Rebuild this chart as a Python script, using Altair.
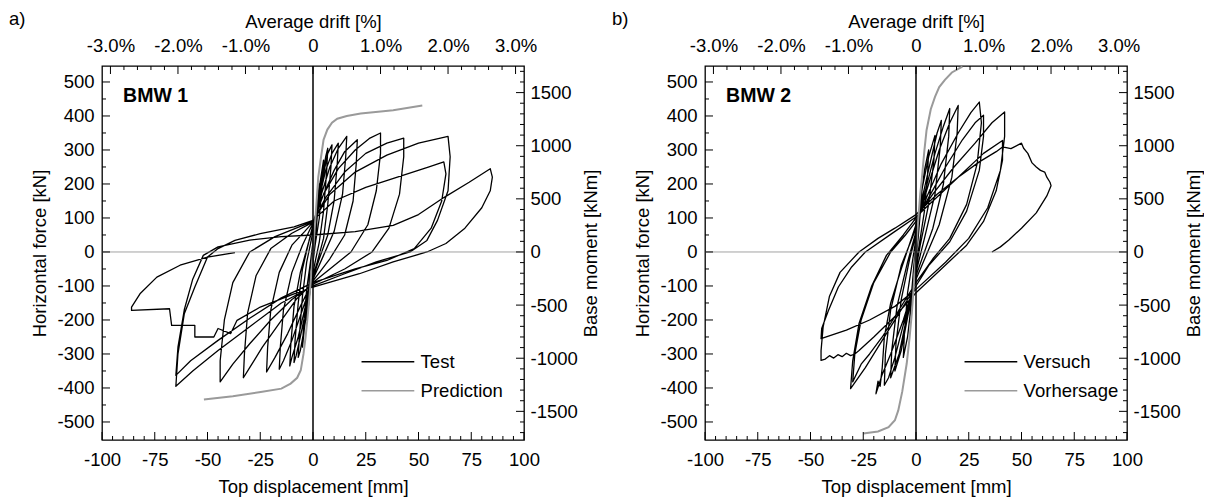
import altair as alt
import pandas as pd

# ---------------- data (displacement mm, force kN) ----------------
a_test = [
    (0, 0), (1, 70), (2, 140), (3, 200), (2.5, 150), (1.5, 60), (0, -20), (-1, -80), (-2, -150), (-3, -200),
    (-2.5, -150), (-1.5, -60), (0, 20),
    (1, 80), (3, 190), (5, 270), (4.5, 210), (3, 100), (1, 20), (0, -30), (-2, -120), (-4, -220), (-5, -280),
    (-4.5, -220), (-3, -110), (-1, -20), (0, 30),
    (2, 120), (4, 210), (6, 280), (7, 305), (6.5, 240), (5, 120), (3, 30), (1, -30), (0, -60), (-2, -140),
    (-4, -220), (-6, -290), (-7, -310), (-6.5, -250), (-5, -130), (-3, -30), (-1, 30), (0, 60),
    (2, 130), (5, 230), (7, 290), (9, 315), (8.5, 250), (7, 140), (5, 40), (2, -30), (0, -70), (-3, -160),
    (-6, -250), (-8, -305), (-9, -325), (-8.5, -260), (-7, -150), (-5, -50), (-2, 30), (0, 70),
    (3, 160), (6, 240), (9, 290), (12, 320), (11.5, 260), (10, 150), (7, 50), (3, -20), (0, -75), (-4, -170),
    (-7, -250), (-10, -310), (-11, -335), (-10.5, -270), (-9, -160), (-6, -60), (-2, 30), (0, 80),
    (4, 170), (8, 250), (12, 305), (16, 340), (15.5, 280), (14, 170), (10, 60), (5, -10), (0, -80), (-5, -170),
    (-10, -260), (-14, -320), (-16, -345), (-15.5, -280), (-14, -170), (-10, -60), (-5, 20), (0, 85),
    (5, 170), (10, 240), (15, 295), (21, 330), (20.5, 260), (19, 150), (15, 50), (8, -20), (0, -85), (-6, -160),
    (-12, -240), (-18, -310), (-22, -353), (-21.5, -280), (-20, -170), (-16, -60), (-10, 20), (-4, 60), (0, 88),
    (5, 170), (12, 245), (20, 300), (27, 335), (32, 350), (32, 290), (30, 180), (26, 80), (18, 0), (8, -50),
    (0, -90), (-8, -140), (-16, -210), (-24, -280), (-30, -340), (-33, -370), (-32.5, -300), (-31, -180),
    (-27, -70), (-20, 10), (-10, 55), (0, 88),
    (6, 160), (15, 235), (25, 290), (35, 320), (43, 335), (43, 280), (41, 170), (36, 70), (28, 0), (15, -50),
    (0, -95), (-10, -140), (-20, -200), (-30, -270), (-38, -330), (-44, -382), (-44, -320), (-42, -200),
    (-38, -90), (-30, 0), (-18, 45), (-8, 70), (0, 90),
    (8, 170), (20, 235), (35, 285), (50, 320), (64, 340), (65, 280), (64, 180), (59, 93), (54, 34), (46, 0),
    (30, -29), (15, -64), (0, -100), (-15, -150), (-30, -220), (-45, -290), (-57, -350), (-65, -395),
    (-64, -300), (-61, -182), (-56, -103), (-50, -15), (-45, 10), (-37, 34), (-25, 54), (-9, 74), (0, 93),
    (10, 150), (25, 190), (40, 220), (55, 250), (62, 265), (63, 230), (61, 150), (56, 70), (48, 10), (35, -25),
    (20, -50), (0, -90), (-15, -135), (-30, -195), (-45, -260), (-58, -320), (-65, -363), (-64, -280),
    (-61, -170), (-57, -80), (-52, -10), (-45, 15), (-30, 35), (-15, 45), (0, 50),
    (20, 60), (38, 78), (50, 110), (62, 160), (74, 205), (84, 245), (85, 220), (84, 180), (80, 130), (72, 70),
    (63, 25), (54, 0), (38, -29), (22, -64), (0, -103), (-9, -123), (-25, -162), (-36, -201), (-39, -240),
    (-45, -225), (-47, -250), (-56, -250), (-56, -216), (-67, -216), (-68, -167), (-86, -172), (-86, -162),
    (-82, -123), (-74, -74), (-63, -39), (-50, -15), (-37, -2),
]
a_pred = [
    (-51.7, -434), (-38, -424), (-24.8, -412), (-15, -402), (-10.6, -387), (-7.5, -370), (-5.8, -348),
    (-4.5, -300), (-3.5, -250), (-2.7, -200), (-1.5, -120), (0, 0), (1.5, 130), (2.5, 220), (3.6, 270),
    (5, 330), (6.8, 360), (9, 380), (11.5, 392), (16, 400), (22.6, 407), (38, 417), (51.8, 431),
]
b_test = [
    (0, 0), (1, 80), (3, 200), (2.5, 150), (1, 40), (0, -20), (-1, -90), (-3, -200), (-2.5, -150), (-1, -40), (0, 20),
    (2, 140), (4, 240), (6, 300), (5.5, 230), (4, 120), (1, 0), (0, -40), (-2, -140), (-4, -250), (-6, -310),
    (-5.5, -240), (-4, -120), (-1, 0), (0, 40),
    (3, 190), (6, 280), (9, 343), (8.5, 270), (6, 140), (2, 20), (0, -50), (-3, -160), (-7, -290), (-10, -350),
    (-9.5, -270), (-7, -140), (-3, -20), (0, 50),
    (3, 160), (7, 270), (10, 350), (12, 387), (11.5, 310), (9, 170), (4, 40), (0, -60), (-4, -180), (-8, -300),
    (-12, -370), (-11.5, -290), (-9, -160), (-4, -30), (0, 60),
    (4, 170), (9, 290), (13, 370), (16, 422), (15.5, 340), (13, 200), (8, 70), (0, -70), (-5, -190), (-10, -310),
    (-13, -370), (-15, -392), (-14.5, -300), (-12, -170), (-7, -40), (0, 70),
    (5, 180), (11, 300), (16, 380), (20, 431), (19.5, 350), (17, 220), (11, 80), (0, -80), (-6, -200),
    (-12, -300), (-16, -360), (-19, -417), (-18, -380), (-17, -395), (-16, -340), (-15, -250), (-12, -150),
    (-7, -50), (0, 80),
    (5, 160), (12, 260), (20, 350), (26, 410), (30, 441), (31, 380), (29, 260), (24, 140), (16, 40), (8, -20),
    (0, -90), (-8, -170), (-16, -250), (-22, -300), (-26, -330), (-30, -382), (-29, -300), (-26, -200),
    (-20, -90), (-12, 0), (-5, 50), (0, 90),
    (6, 160), (14, 250), (22, 330), (28, 380), (32, 402), (32, 340), (30, 240), (24, 120), (16, 30), (6, -40),
    (0, -100), (-8, -180), (-16, -260), (-24, -340), (-31, -402), (-30, -320), (-27, -210), (-21, -100),
    (-14, -10), (-6, 50), (0, 100),
    (8, 170), (18, 250), (28, 320), (36, 380), (42, 412), (42, 340), (40, 240), (34, 130), (25, 40), (14, -30),
    (0, -110), (-10, -160), (-22, -200), (-33, -230), (-45, -255), (-44.7, -225), (-41.5, -172), (-36.8, -103),
    (-30.5, -44), (-24, 0), (-11.5, 54), (0, 103),
    (8, 150), (20, 220), (32, 290), (41, 328), (41, 270), (38, 180), (32, 90), (24, 20), (12, -50), (0, -120),
    (-10, -190), (-20, -250), (-27, -290), (-29, -300), (-31, -305), (-33, -298), (-35, -308), (-37, -302),
    (-39, -312), (-41, -305), (-43, -315), (-45, -319), (-45, -290), (-44, -220), (-41, -130), (-36, -60),
    (-27, 0), (-18, 40), (-10, 70), (0, 110),
    (10, 170), (20, 220), (30, 265), (38, 295), (41, 309), (45, 304), (50, 320), (51, 305), (53, 290),
    (55, 262), (57, 250), (59, 240), (61, 235), (62, 220), (63.5, 205), (64, 195), (62, 165), (57, 115),
    (50, 70), (44, 35), (40, 15), (36, 0),
]
b_pred = [
    (-25, -534), (-18, -528), (-13, -515), (-10, -495), (-8.4, -466), (-6.5, -410), (-4.4, -328), (-3, -250),
    (-2, -181), (-1, -95), (0, 0), (1, 90), (2, 170), (2.7, 211), (4, 300), (5, 358), (7, 420), (9, 456),
    (11, 485), (13.7, 506), (17, 528), (22, 545),
]

x_major = [-100, -75, -50, -25, 0, 25, 50, 75, 100]
x_minor = [v for v in range(-95, 100, 5) if v % 25 != 0]
y_major = [-500, -400, -300, -200, -100, 0, 100, 200, 300, 400, 500]
y_minor = [-450, -350, -250, -150, -50, 50, 150, 250, 350, 450]
drift_major = [-3, -2, -1, 0, 1, 2, 3]
drift_minor = [-2.8, -2.6, -2.4, -2.2, -1.8, -1.6, -1.4, -1.2, -0.8, -0.6, -0.4, -0.2,
               0.2, 0.4, 0.6, 0.8, 1.2, 1.4, 1.6, 1.8, 2.2, 2.4, 2.6, 2.8]
moment_major = [-1500, -1000, -500, 0, 500, 1000, 1500]
moment_minor = [m for m in range(-1700, 1800, 100) if m % 500 != 0]

MM_PER_PCT = 32.0   # 1 % drift = 32 mm top displacement
LEVER = 3.2         # base moment = force * 3.2 m

X_DOM = [-100, 100]
Y_DOM = [-553, 547]
W, H = 422, 374
FONT = "Liberation Sans"
FS = 18.5
MAJ, MIN = 8, 4


def panel(test, pred, letter, tag, names):
    xs = alt.Scale(domain=X_DOM, nice=False, zero=False)
    ys = alt.Scale(domain=Y_DOM, nice=False, zero=False)
    df_t = pd.DataFrame({"x": [p[0] for p in test], "y": [p[1] for p in test], "i": list(range(len(test)))})
    df_p = pd.DataFrame({"x": [p[0] for p in pred], "y": [p[1] for p in pred], "i": list(range(len(pred)))})

    common = dict(ticks=False, domain=False, grid=False, tickSize=0, labelFlush=False, labelOverlap=False,
                  labelFont=FONT, titleFont=FONT, labelFontSize=FS, titleFontSize=FS,
                  labelColor="black", titleColor="black", titleFontWeight="normal")

    hline = alt.Chart(pd.DataFrame({"y": [0]})).mark_rule(color="#8a8a8a", strokeWidth=0.8).encode(
        y=alt.Y("y:Q", scale=ys, axis=None))
    vline = alt.Chart(pd.DataFrame({"x": [0]})).mark_rule(color="black", strokeWidth=1.5).encode(
        x=alt.X("x:Q", scale=xs, axis=None))

    test_line = alt.Chart(df_t).mark_line(color="black", strokeWidth=1.3, strokeJoin="round").encode(
        x=alt.X("x:Q", scale=xs, axis=alt.Axis(
            orient="bottom", title="Top displacement [mm]", values=x_major,
            labelExpr="'' + datum.value", labelPadding=10, titlePadding=9, **common)),
        y=alt.Y("y:Q", scale=ys, axis=alt.Axis(
            orient="left", title="Horizontal force [kN]", values=y_major,
            labelExpr="'' + datum.value", labelPadding=8, titlePadding=7, **common)),
        order="i:Q",
    )
    pred_line = alt.Chart(df_p).mark_line(color="#9a9a9a", strokeWidth=2).encode(
        x=alt.X("x:Q", scale=xs, axis=alt.Axis(
            orient="top", title="Average drift [%]", values=[d * MM_PER_PCT for d in drift_major],
            labelExpr="datum.value == 0 ? '0' : (datum.value < 0 ? '-' : '') + format(abs(datum.value) / 32, '.1f') + '%'",
            labelPadding=11, titlePadding=5, **common)),
        y=alt.Y("y:Q", scale=ys, axis=alt.Axis(
            orient="right", title="Base moment [kNm]", values=[m / LEVER for m in moment_major],
            labelExpr="'' + round(datum.value * 3.2)", labelPadding=6, titlePadding=4,
            titleAngle=270, titleBaseline="top", **common)),
        order="i:Q",
    )

    # inward tick marks
    def xticks(vals, top, length, pct=False):
        base = alt.Chart(pd.DataFrame({"v": vals}))
        field = "v"
        if pct:
            base = base.transform_calculate(mm="datum.v * 32")
            field = "mm"
        y0 = 0 if top else H
        y1 = length if top else H - length
        return base.mark_rule(color="black", strokeWidth=1).encode(
            x=alt.X(field + ":Q", scale=xs, axis=None), y=alt.value(y0), y2=alt.value(y1))

    def yticks(vals, right, length, moment=False):
        base = alt.Chart(pd.DataFrame({"v": vals}))
        field = "v"
        if moment:
            base = base.transform_calculate(kn="datum.v / 3.2")
            field = "kn"
        x0 = W if right else 0
        x1 = W - length if right else length
        return base.mark_rule(color="black", strokeWidth=1).encode(
            y=alt.Y(field + ":Q", scale=ys, axis=None), x=alt.value(x0), x2=alt.value(x1))

    ticks = [
        xticks(x_major, False, MAJ), xticks(x_minor, False, MIN),
        xticks(drift_major, True, MAJ, pct=True), xticks(drift_minor, True, MIN, pct=True),
        yticks(y_major, False, MAJ), yticks(y_minor, False, MIN),
        yticks(moment_major, True, MAJ, moment=True), yticks(moment_minor, True, MIN, moment=True),
    ]

    tag_text = alt.Chart(pd.DataFrame({"x": [-90], "y": [459], "t": [tag]})).mark_text(
        align="left", baseline="middle", font=FONT, fontSize=19.5, fontWeight="bold", color="black").encode(
        x=alt.X("x:Q", scale=xs, axis=None), y=alt.Y("y:Q", scale=ys, axis=None), text="t:N")

    leg = pd.DataFrame({"x": [23, 23], "x2": [48, 48], "y": [-323, -408], "name": names, "tx": [51, 51]})
    leg_color = alt.Color("name:N", scale=alt.Scale(domain=names, range=["black", "#9a9a9a"]), legend=None)
    leg_rules = alt.Chart(leg).mark_rule(strokeWidth=1.6).encode(
        x=alt.X("x:Q", scale=xs, axis=None), x2="x2:Q", y=alt.Y("y:Q", scale=ys, axis=None), color=leg_color)
    leg_text = alt.Chart(leg).mark_text(align="left", baseline="middle", font=FONT, fontSize=FS,
                                        color="black").encode(
        x=alt.X("tx:Q", scale=xs, axis=None), y=alt.Y("y:Q", scale=ys, axis=None), text="name:N")

    layer = alt.layer(test_line, pred_line, hline, vline, *ticks, tag_text, leg_rules, leg_text).resolve_axis(
        x="independent", y="independent").properties(
        width=W, height=H,
        title=alt.TitleParams(text=letter, anchor="start", frame="group", dx=-93, offset=-16,
                              font=FONT, fontSize=FS, fontWeight="normal", color="black"))
    return layer


chart = alt.hconcat(
    panel(a_test, a_pred, "a)", "BMW 1", ["Test", "Prediction"]),
    panel(b_test, b_pred, "b)", "BMW 2", ["Versuch", "Vorhersage"]),
    spacing=10, padding=0,
).configure_view(stroke="black", strokeWidth=1.3).configure_axis(
    labelFont=FONT, titleFont=FONT, labelFontSize=FS, titleFontSize=FS, labelColor="black",
    titleColor="black", titleFontWeight="normal",
)

chart.save("out.html", embed_options={"renderer": "svg", "actions": False})
